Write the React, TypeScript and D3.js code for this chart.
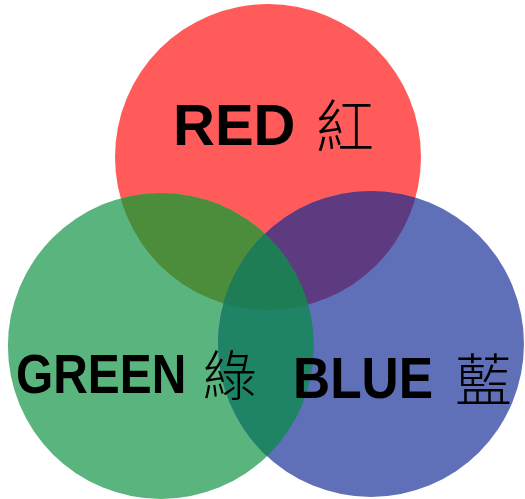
import { scaleLinear } from 'd3'

const W = 525
const H = 499

// circles in radius units, red at the origin
const SETS = ['red', 'green', 'blue']
const CX = [0, -0.7, 0.673]
const CY = [0, 1.235, 1.222]
const FILLS = ['#ff5b5b', '#5ab47e', '#5f6fb8']
const LABELS_EN = ['RED', 'GREEN', 'BLUE']
const LABELS_ZH = ['紅', '綠', '藍']

// pair overlaps: [a, b, colour]
const PAIRS: [number, number, string][] = [
  [0, 1, '#4c8d3b'],
  [0, 2, '#5e3a81'],
  [1, 2, '#1f8466'],
]
const TRIPLE = '#1f7d55'

const R = 153
const x = scaleLinear().domain([-1, 1]).range([268 - R, 268 + R])
const y = scaleLinear().domain([-1, 1]).range([157 - R, 157 + R])
const rad = x(1) - x(0)

// label layout (px); sx squeezes the latin words horizontally like the original
const EN_POS = [
  { x: 173, y: 145, sx: 1.0, size: 58 },
  { x: 16, y: 393, sx: 0.855, size: 56 },
  { x: 293, y: 398, sx: 0.887, size: 58 },
]
const ZH_POS = [
  { x: 316, y: 148, size: 58 },
  { x: 203, y: 396, size: 54 },
  { x: 455, y: 401, size: 57 },
]

export default function App() {
  return (
    <svg width={W} height={H} style={{ position: 'absolute', left: 0, top: 0, background: '#fff' }}>
      <defs>
        {SETS.map((s, i) => (
          <clipPath key={s} id={`clip-${s}`}>
            <circle cx={x(CX[i])} cy={y(CY[i])} r={rad} />
          </clipPath>
        ))}
      </defs>
      {SETS.map((s, i) => (
        <circle key={s} cx={x(CX[i])} cy={y(CY[i])} r={rad} fill={FILLS[i]} />
      ))}
      {PAIRS.map(([a, b, c]) => (
        <circle
          key={`${a}${b}`}
          cx={x(CX[a])}
          cy={y(CY[a])}
          r={rad}
          fill={c}
          clipPath={`url(#clip-${SETS[b]})`}
        />
      ))}
      <g clipPath="url(#clip-blue)">
        <circle cx={x(CX[0])} cy={y(CY[0])} r={rad} fill={TRIPLE} clipPath="url(#clip-green)" />
      </g>
      {LABELS_EN.map((t, i) => (
        <text
          key={t}
          transform={`translate(${EN_POS[i].x},${EN_POS[i].y}) scale(${EN_POS[i].sx},1)`}
          fontFamily="'Liberation Sans', Arial, sans-serif"
          fontWeight="bold"
          fontSize={EN_POS[i].size}
          fill="#000"
        >
          {t}
        </text>
      ))}
      {LABELS_ZH.map((t, i) => (
        <text
          key={t}
          x={ZH_POS[i].x}
          y={ZH_POS[i].y}
          fontFamily="'Noto Sans CJK TC', sans-serif"
          fontWeight={300}
          fontSize={ZH_POS[i].size}
          fill="#000"
        >
          {t}
        </text>
      ))}
    </svg>
  )
}
